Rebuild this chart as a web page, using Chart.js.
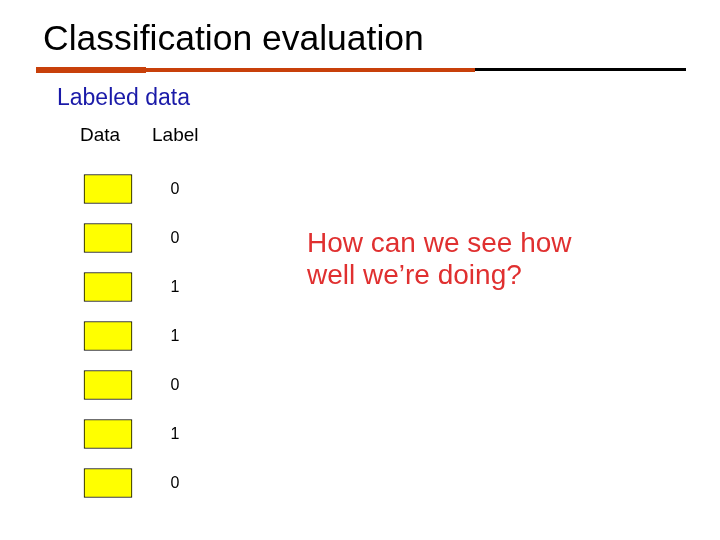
<!DOCTYPE html>
<html><head><meta charset="utf-8">
<script src="https://cdn.jsdelivr.net/npm/chart.js@4"></script>
<style>
body{margin:0;width:720px;height:540px;background:#fff;position:relative;overflow:hidden;font-family:"Liberation Sans",Arial,sans-serif}
.t{position:absolute;white-space:nowrap}
#c{position:absolute;left:0;top:0}
</style></head><body>
<canvas id="c" width="720" height="540"></canvas>
<div class="t" style="left:43px;top:18px;font-size:35.5px;color:#000">Classification evaluation</div>
<div style="position:absolute;left:36px;top:67px;width:110px;height:6px;background:#c8400a"></div>
<div style="position:absolute;left:140px;top:68px;width:335px;height:4px;background:#c8400a"></div>
<div style="position:absolute;left:475px;top:68px;width:211px;height:3px;background:#000"></div>
<div class="t" style="left:57px;top:84px;font-size:23px;color:#1a1aa8">Labeled data</div>
<div class="t" style="left:80px;top:124px;font-size:19px;color:#000">Data</div>
<div class="t" style="left:152px;top:124px;font-size:19px;color:#000">Label</div>
<div class="t" style="left:307px;top:227px;font-size:28px;line-height:32px;color:#e03030">How can we see how<br>well we’re doing?</div>
<script>
const rows = [0,1,2,3,4,5,6];
const labels = ["0","0","1","1","0","1","0"];
const boxSpan = [84,132];
const labelPlugin = {
  id:'lbl',
  afterDatasetsDraw(chart){
    const ctx = chart.ctx, xs = chart.scales.x, ys = chart.scales.y;
    ctx.save();
    ctx.font = '16px "Liberation Sans", Arial, sans-serif';
    ctx.fillStyle = '#000'; ctx.textAlign='center'; ctx.textBaseline='middle';
    rows.forEach((r,i)=>ctx.fillText(labels[i], xs.getPixelForValue(175), ys.getPixelForValue(r)+1));
    ctx.restore();
  }
};
new Chart(document.getElementById('c'),{
  type:'bar',
  data:{datasets:[{
    data: rows.map(r=>({y:r,x:boxSpan})),
    backgroundColor:'#ffff00', borderColor:'#000', borderWidth:1, borderSkipped:false,
    barThickness:29
  }]},
  options:{
    indexAxis:'y', responsive:false, animation:false,
    layout:{padding:0},
    plugins:{legend:{display:false},tooltip:{enabled:false}},
    scales:{
      x:{type:'linear',min:0,max:720,display:false,offset:false},
      y:{type:'linear',min:-189/49,max:351/49,reverse:true,display:false,offset:false}
    }
  },
  plugins:[labelPlugin]
});
</script>
</body></html>
